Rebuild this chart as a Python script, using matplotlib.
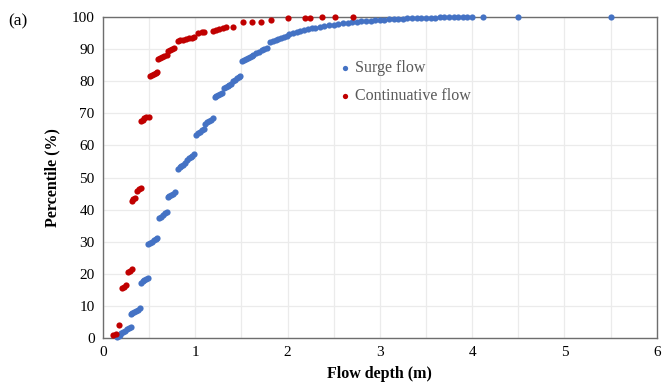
import numpy as np
import matplotlib
matplotlib.use("Agg")
import matplotlib.pyplot as plt
from matplotlib.ticker import MultipleLocator

plt.rcParams["font.family"] = ["Liberation Serif", "DejaVu Serif"]

# surge flow: (profondità m, percentile %)
surge_depth = [
    0.15, 0.17, 0.19,
    0.20, 0.22, 0.24, 0.26, 0.28, 0.30,
    0.30, 0.32, 0.34, 0.36, 0.38, 0.40,
    0.41, 0.43, 0.45, 0.47, 0.49,
    0.49, 0.51, 0.53, 0.55, 0.57, 0.59,
    0.61, 0.63, 0.65, 0.67, 0.69,
    0.70, 0.72, 0.74, 0.76, 0.78,
    0.81, 0.83, 0.85, 0.87, 0.89,
    0.91, 0.93, 0.95, 0.97, 0.99,
    1.01, 1.03, 1.05, 1.07, 1.09,
    1.11, 1.13, 1.15, 1.17, 1.19,
    1.21, 1.23, 1.25, 1.27, 1.29,
    1.31, 1.33, 1.35, 1.37, 1.39,
    1.41, 1.43, 1.45, 1.47, 1.49,
    1.51, 1.53, 1.55, 1.57, 1.59, 1.61,
    1.63, 1.66, 1.69, 1.72, 1.75, 1.78,
    1.81, 1.84, 1.87, 1.90, 1.93, 1.96, 1.99,
    2.02, 2.06, 2.10, 2.14, 2.18, 2.22, 2.26, 2.30, 2.35,
    2.40, 2.45, 2.50, 2.55, 2.60, 2.65, 2.70, 2.75, 2.80, 2.85, 2.90, 2.95, 3.00,
    3.05, 3.10, 3.15, 3.20, 3.25, 3.30, 3.35, 3.40, 3.45, 3.50,
    3.55, 3.60, 3.65, 3.70, 3.75, 3.80, 3.85, 3.90, 3.95, 4.00,
    4.12, 4.50, 5.51,
]
surge_pct = [
    0.2, 0.5, 0.9,
    1.5, 1.9, 2.3, 2.7, 3.0, 3.3,
    7.4, 7.8, 8.1, 8.5, 8.8, 9.2,
    17.2, 17.6, 18.0, 18.4, 18.8,
    29.2, 29.6, 30.0, 30.4, 30.8, 31.1,
    37.3, 37.8, 38.3, 38.8, 39.2,
    43.8, 44.2, 44.6, 45.0, 45.4,
    52.8, 53.2, 53.6, 54.0, 54.4,
    55.6, 56.0, 56.4, 56.8, 57.2,
    63.3, 63.8, 64.3, 64.8, 65.2,
    66.8, 67.2, 67.6, 68.0, 68.4,
    75.0, 75.3, 75.7, 76.0, 76.3,
    77.8, 78.2, 78.5, 78.9, 79.2,
    80.0, 80.5, 81.0, 81.4, 81.7,
    86.3, 86.6, 86.9, 87.3, 87.6, 87.9,
    88.3, 88.8, 89.2, 89.6, 90.0, 90.4,
    92.2, 92.5, 92.8, 93.1, 93.4, 93.7, 94.0,
    94.6, 95.0, 95.4, 95.7, 96.0, 96.3, 96.5, 96.7, 97.0,
    97.2, 97.4, 97.6, 97.8, 98.0, 98.2, 98.4, 98.5, 98.7, 98.8, 98.9, 99.0, 99.1,
    99.2, 99.3, 99.4, 99.5, 99.55, 99.6, 99.65, 99.7, 99.75, 99.8,
    99.8, 99.85, 99.9, 99.9, 99.9, 99.95, 99.95, 100, 100, 100,
    100, 100, 100,
]

# continuative flow
cont_depth = [
    0.11, 0.14, 0.17,
    0.21, 0.23, 0.25,
    0.27, 0.29, 0.31,
    0.31, 0.33, 0.35,
    0.37, 0.39, 0.41,
    0.41, 0.43, 0.45, 0.47, 0.50,
    0.51, 0.53, 0.55, 0.57, 0.59,
    0.60, 0.62, 0.64, 0.66, 0.69,
    0.71, 0.73, 0.75, 0.77,
    0.81, 0.84, 0.87, 0.90, 0.93, 0.96, 0.99,
    1.03, 1.07, 1.10,
    1.19, 1.22, 1.26, 1.30, 1.33,
    1.41,
    1.52, 1.61, 1.71, 1.82,
    2.00, 2.19, 2.24, 2.37, 2.51, 2.71,
]
cont_pct = [
    0.8, 1.1, 3.9,
    15.6, 16.0, 16.4,
    20.6, 21.0, 21.5,
    42.8, 43.2, 43.6,
    45.8, 46.3, 46.8,
    67.6, 68.0, 68.4, 68.8, 69.0,
    81.6, 82.0, 82.3, 82.6, 82.8,
    87.0, 87.4, 87.7, 88.0, 88.3,
    89.5, 89.8, 90.0, 90.3,
    92.5, 92.8, 93.0, 93.2, 93.4, 93.6, 93.8,
    95.0, 95.2, 95.4,
    95.7, 96.0, 96.2, 96.5, 96.8,
    97.0,
    98.4, 98.5, 98.6, 99.0,
    99.6, 99.8, 99.8, 99.9, 100, 100,
]

BLU = "#4472C4"
ROSSO = "#C00000"
GRIGIO = "#595959"

fig = plt.figure(figsize=(6.64, 3.88), dpi=100)
ax = fig.add_axes([0.155, 0.129, 0.834, 0.827])

ax.scatter(surge_depth, surge_pct, s=20, color=BLU, lw=0, label="Surge flow", zorder=3, clip_on=False)
ax.scatter(cont_depth, cont_pct, s=20, color=ROSSO, lw=0, label="Continuative flow", zorder=3, clip_on=False)

ax.set_xlim(0, 6); ax.set_ylim(0, 100)
ax.xaxis.set_major_locator(MultipleLocator(1))
ax.xaxis.set_minor_locator(MultipleLocator(0.5))
ax.yaxis.set_major_locator(MultipleLocator(10))
ax.grid(True, which="both", color="#ebebeb", lw=0.9, zorder=0)
ax.set_axisbelow(True)
ax.tick_params(which="both", length=0, labelsize=11, labelcolor="black", pad=6)
for sp in ax.spines.values():
    sp.set_color("#6e6e6e"); sp.set_linewidth(1.0)

ax.set_xlabel("Flow depth (m)", fontsize=11.5, fontweight="bold", labelpad=5)
ax.set_ylabel("Percentile (%)", fontsize=11.5, fontweight="bold", labelpad=8)

ax.legend(loc="upper left", bbox_to_anchor=(0.397, 0.91), frameon=False, fontsize=11.5,
          labelcolor=GRIGIO, handletextpad=0.1, labelspacing=0.75, markerscale=0.85,
          handlelength=1.0)
fig.text(0.012, 0.935, "(a)", fontsize=12.5)

fig.savefig("out.png", dpi=100)
